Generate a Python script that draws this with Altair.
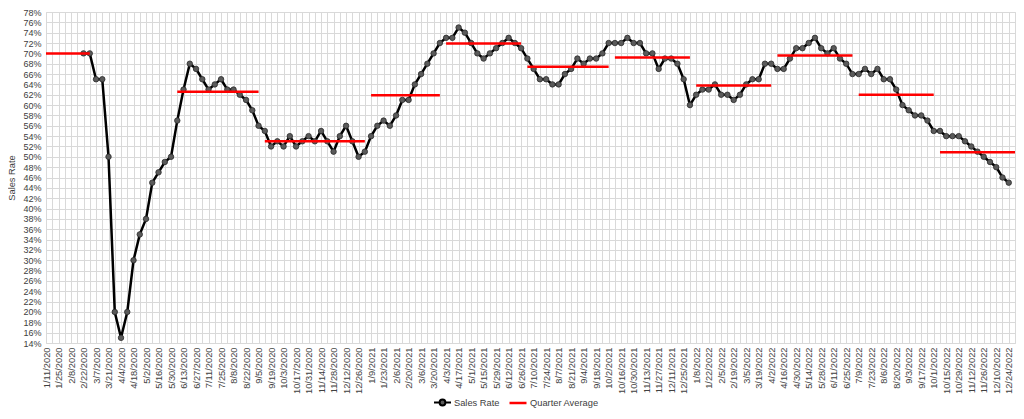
import altair as alt
import pandas as pd

# x-axis tick labels (every second week)
tick_labels = [
    "1/11/2020", "1/25/2020", "2/8/2020", "2/22/2020", "3/7/2020", "3/21/2020", "4/4/2020", "4/18/2020",
    "5/2/2020", "5/16/2020", "5/30/2020", "6/13/2020", "6/27/2020", "7/11/2020", "7/25/2020", "8/8/2020",
    "8/22/2020", "9/5/2020", "9/19/2020", "10/3/2020", "10/17/2020", "10/31/2020", "11/14/2020", "11/28/2020",
    "12/12/2020", "12/26/2020",
    "1/9/2021", "1/23/2021", "2/6/2021", "2/20/2021", "3/6/2021", "3/20/2021", "4/3/2021", "4/17/2021",
    "5/1/2021", "5/15/2021", "5/29/2021", "6/12/2021", "6/26/2021", "7/10/2021", "7/24/2021", "8/7/2021",
    "8/21/2021", "9/4/2021", "9/18/2021", "10/2/2021", "10/16/2021", "10/30/2021", "11/13/2021", "11/27/2021",
    "12/11/2021", "12/25/2021",
    "1/8/2022", "1/22/2022", "2/5/2022", "2/19/2022", "3/5/2022", "3/19/2022", "4/2/2022", "4/16/2022",
    "4/30/2022", "5/14/2022", "5/28/2022", "6/11/2022", "6/25/2022", "7/9/2022", "7/23/2022", "8/6/2022",
    "8/20/2022", "9/3/2022", "9/17/2022", "10/1/2022", "10/15/2022", "10/29/2022", "11/12/2022", "11/26/2022",
    "12/10/2022", "12/24/2022",
]

# weekly sales rate (%), week 0 = 1/11/2020
sales_rate = [
    None, None, None, None, None, None, 70, 70, 65, 65,
    50, 20, 15, 20, 30, 35, 38, 45, 47, 49,
    50, 57, 63, 68, 67, 65, 63, 64, 65, 63,
    63, 62, 61, 59, 56, 55, 52, 53, 52, 54,
    52, 53, 54, 53, 55, 53, 51, 54, 56, 53,
    50, 51, 54, 56, 57, 56, 58, 61, 61, 64,
    66, 68, 70, 72, 73, 73, 75, 74, 72, 70,
    69, 70, 71, 72, 73, 72, 71, 69, 67, 65,
    65, 64, 64, 66, 67, 69, 68, 69, 69, 70,
    72, 72, 72, 73, 72, 72, 70, 70, 67, 69,
    69, 68, 65, 60, 62, 63, 63, 64, 62, 62,
    61, 62, 64, 65, 65, 68, 68, 67, 67, 69,
    71, 71, 72, 73, 71, 70, 71, 69, 68, 66,
    66, 67, 66, 67, 65, 65, 63, 60, 59, 58,
    58, 57, 55, 55, 54, 54, 54, 53, 52, 51,
    50, 49, 48, 46, 45,
]

# quarter average segments (week index start/end, average %)
q_start = [0, 21, 35, 52, 64, 77, 91, 104, 117, 130, 143]
q_end = [7, 34, 51, 63, 76, 90, 103, 116, 129, 142, 155]
q_avg = [70.0, 62.6, 53.0, 61.9, 71.9, 67.4, 69.2, 63.8, 69.6, 62.0, 50.9]

n_weeks = 156
y_ticks = list(range(14, 80, 2))

sales = pd.DataFrame({
    "week": list(range(len(sales_rate))),
    "rate": sales_rate,
    "series": "Sales Rate",
}).dropna()

quarters = pd.DataFrame({
    "start": q_start,
    "end": q_end,
    "avg": q_avg,
    "series": "Quarter Average",
})

label_js = "[" + ",".join("'" + t + "'" for t in tick_labels) + "]"

TEXT = "#404040"
GRID = "#d9d9d9"
FONT = "Liberation Sans"

x_enc = alt.X(
    "week:Q",
    scale=alt.Scale(domain=[0, n_weeks - 1], nice=False, zero=False),
    axis=alt.Axis(
        values=list(range(n_weeks)),
        tickCount=n_weeks + 10,
        labelExpr="datum.value % 2 == 0 ? " + label_js + "[datum.value / 2] : ''",
        labelAngle=-90,
        labelOverlap=False,
        labelFlush=False,
        labelBound=False,
        ticks=False,
        domain=False,
        grid=True,
        gridColor=GRID,
        gridWidth=1,
        labelFontSize=9.3,
        labelColor=TEXT,
        labelFont=FONT,
        labelPadding=4,
        title=None,
    ),
)

y_enc = alt.Y(
    "rate:Q",
    scale=alt.Scale(domain=[14, 78], nice=False, zero=False),
    axis=alt.Axis(
        values=y_ticks,
        tickCount=len(y_ticks) + 10,
        labelExpr="datum.value + '%'",
        labelFlush=False,
        labelOverlap=False,
        ticks=False,
        domain=False,
        grid=True,
        gridColor=GRID,
        gridWidth=1,
        labelFontSize=9,
        labelColor=TEXT,
        labelFont=FONT,
        labelPadding=5,
        title="Sales Rate",
        titleFontSize=9.3,
        titleFontWeight="normal",
        titleColor=TEXT,
        titleFont=FONT,
        titlePadding=6,
    ),
)

circle_path = "M-1,0L-0.34,0M0.34,0L1,0M0.34,0A0.34,0.34,0,1,1,-0.34,0A0.34,0.34,0,1,1,0.34,0Z"

legend_common = dict(
    orient="none",
    direction="horizontal",
    title=None,
    labelFontSize=9.3,
    labelColor=TEXT,
    labelFont=FONT,
    symbolSize=289,
    labelOffset=2,
    padding=0,
)

line = alt.Chart(sales).mark_line(strokeWidth=2.5, color="#000000").encode(
    x=x_enc,
    y=y_enc,
)

points = alt.Chart(sales).mark_point(
    shape="circle", filled=True, size=30, stroke="#2a2a2a",
    strokeWidth=0.8, opacity=1,
).encode(
    x=alt.X("week:Q"),
    y=alt.Y("rate:Q"),
    color=alt.Color(
        "series:N",
        scale=alt.Scale(domain=["Sales Rate"], range=["#5a5a5a"]),
        legend=alt.Legend(
            legendX=387, legendY=381,
            symbolType=circle_path,
            symbolStrokeColor="#000000",
            symbolStrokeWidth=2,
            symbolOpacity=1,
            **legend_common,
        ),
    ),
)

rules = alt.Chart(quarters).mark_rule(strokeWidth=2.5).encode(
    x=alt.X("start:Q"),
    x2=alt.X2("end"),
    y=alt.Y("avg:Q"),
    color=alt.Color(
        "series:N",
        scale=alt.Scale(domain=["Quarter Average"], range=["#ff0000"]),
        legend=alt.Legend(
            legendX=462, legendY=381,
            symbolType="stroke",
            symbolStrokeWidth=2.5,
            **legend_common,
        ),
    ),
)

chart = alt.layer(line, points, rules).resolve_scale(
    color="independent"
).resolve_legend(
    color="independent"
).properties(
    width=969,
    height=331,
    autosize=alt.AutoSizeParams(type="none"),
    padding={"left": 38, "top": 4, "right": 1, "bottom": 68},
    background="white",
).configure_view(
    stroke=GRID,
    strokeWidth=1,
).configure(
    font=FONT,
)

chart.save("out.html", embed_options={"renderer": "svg", "actions": False})
